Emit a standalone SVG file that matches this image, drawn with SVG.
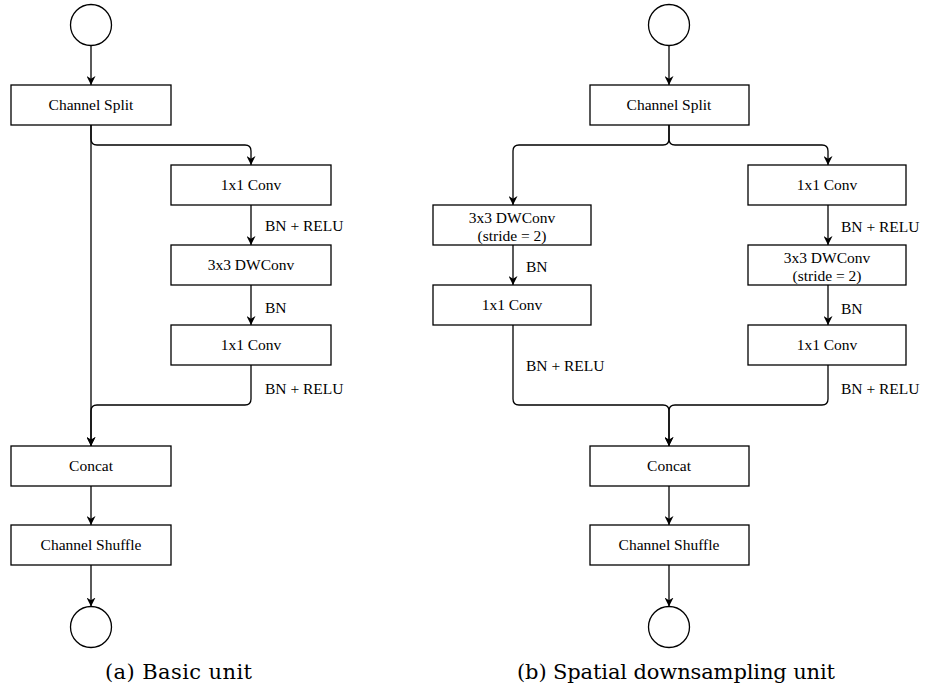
<svg xmlns="http://www.w3.org/2000/svg" width="933" height="688" viewBox="0 0 933 688">
<style>
.box{fill:#fff;stroke:#000;stroke-width:1.3}
.t{font-family:'Liberation Serif','DejaVu Serif',serif;font-size:15.5px;fill:#000}
.c{text-anchor:middle}
.ln{fill:none;stroke:#000;stroke-width:1.3}
.cap{font-family:'DejaVu Serif','Liberation Serif',serif;font-size:21px;fill:#000;text-anchor:middle}
</style>
<defs>
<marker id="arr" viewBox="0 0 10 10" refX="10" refY="5" markerWidth="9" markerHeight="9" markerUnits="userSpaceOnUse" orient="auto">
<path d="M0,0 L10,5 L0,10 L3,5 Z" fill="#000"/>
</marker>
</defs>
<rect width="933" height="688" fill="#fff"/>

<g id="connectors">
<path class="ln" d="M91,45.5 V85" marker-end="url(#arr)"/>
<path class="ln" d="M91,125 V446" marker-end="url(#arr)"/>
<path class="ln" d="M91,125 V139 Q91,145 97,145 H245 Q251,145 251,151 V165" marker-end="url(#arr)"/>
<path class="ln" d="M251,205 V245" marker-end="url(#arr)"/>
<path class="ln" d="M251,285 V325" marker-end="url(#arr)"/>
<path class="ln" d="M251,365 V399 Q251,405 245,405 H97 Q91,405 91,411 V446" marker-end="url(#arr)"/>
<path class="ln" d="M91,486 V525" marker-end="url(#arr)"/>
<path class="ln" d="M91,565 V606.5" marker-end="url(#arr)"/>
<path class="ln" d="M669,45.5 V85" marker-end="url(#arr)"/>
<path class="ln" d="M669,125 V139 Q669,145 663,145 H519 Q513,145 513,151 V205" marker-end="url(#arr)"/>
<path class="ln" d="M669,125 V139 Q669,145 675,145 H822 Q828,145 828,151 V165" marker-end="url(#arr)"/>
<path class="ln" d="M513,245 V285" marker-end="url(#arr)"/>
<path class="ln" d="M828,205 V245" marker-end="url(#arr)"/>
<path class="ln" d="M828,285 V325" marker-end="url(#arr)"/>
<path class="ln" d="M513,325 V399 Q513,405 519,405 H663 Q669,405 669,411 V446" marker-end="url(#arr)"/>
<path class="ln" d="M828,365 V399 Q828,405 822,405 H675 Q669,405 669,411 V446" marker-end="url(#arr)"/>
<path class="ln" d="M669,486 V525" marker-end="url(#arr)"/>
<path class="ln" d="M669,565 V606.5" marker-end="url(#arr)"/>
<g class="t">
<text x="265" y="231">BN + RELU</text>
<text x="265" y="313">BN</text>
<text x="265" y="394">BN + RELU</text>
<text x="526" y="272">BN</text>
<text x="526" y="371">BN + RELU</text>
<text x="841" y="232">BN + RELU</text>
<text x="841" y="314">BN</text>
<text x="841" y="394">BN + RELU</text>
</g>
</g>

<g id="a_in"><circle class="box" cx="91" cy="25" r="20.5"/></g>
<g id="a_split"><rect class="box" x="11" y="85" width="160" height="40"/><text class="t c" x="91" y="110">Channel Split</text></g>
<g id="a_conv1"><rect class="box" x="171" y="165" width="160" height="40"/><text class="t c" x="251" y="190">1x1 Conv</text></g>
<g id="a_dw"><rect class="box" x="171" y="245" width="160" height="40"/><text class="t c" x="251" y="270">3x3 DWConv</text></g>
<g id="a_conv2"><rect class="box" x="171" y="325" width="160" height="40"/><text class="t c" x="251" y="350">1x1 Conv</text></g>
<g id="a_concat"><rect class="box" x="11" y="446" width="160" height="40"/><text class="t c" x="91" y="471">Concat</text></g>
<g id="a_shuffle"><rect class="box" x="11" y="525" width="160" height="40"/><text class="t c" x="91" y="550">Channel Shuffle</text></g>
<g id="a_out"><circle class="box" cx="91" cy="627" r="20.5"/></g>
<text class="cap" x="178.5" y="679" textLength="147" lengthAdjust="spacing">(a) Basic unit</text>

<g id="b_in"><circle class="box" cx="669" cy="25" r="20.5"/></g>
<g id="b_split"><rect class="box" x="590" y="85" width="159" height="40"/><text class="t c" x="669" y="110">Channel Split</text></g>
<g id="b_dw_l"><rect class="box" x="433" y="205" width="158" height="40"/><text class="t c" x="512" y="223">3x3 DWConv</text><text class="t c" x="512" y="241">(stride = 2)</text></g>
<g id="b_conv_l"><rect class="box" x="433" y="285" width="158" height="40"/><text class="t c" x="512" y="310">1x1 Conv</text></g>
<g id="b_conv1_r"><rect class="box" x="748" y="165" width="158" height="40"/><text class="t c" x="827" y="190">1x1 Conv</text></g>
<g id="b_dw_r"><rect class="box" x="748" y="245" width="158" height="40"/><text class="t c" x="827" y="263">3x3 DWConv</text><text class="t c" x="827" y="281">(stride = 2)</text></g>
<g id="b_conv2_r"><rect class="box" x="748" y="325" width="158" height="40"/><text class="t c" x="827" y="350">1x1 Conv</text></g>
<g id="b_concat"><rect class="box" x="590" y="446" width="159" height="40"/><text class="t c" x="669" y="471">Concat</text></g>
<g id="b_shuffle"><rect class="box" x="590" y="525" width="159" height="40"/><text class="t c" x="669" y="550">Channel Shuffle</text></g>
<g id="b_out"><circle class="box" cx="669" cy="627" r="20.5"/></g>
<text class="cap" x="676" y="679" textLength="318" lengthAdjust="spacing">(b) Spatial downsampling unit</text>
</svg>
